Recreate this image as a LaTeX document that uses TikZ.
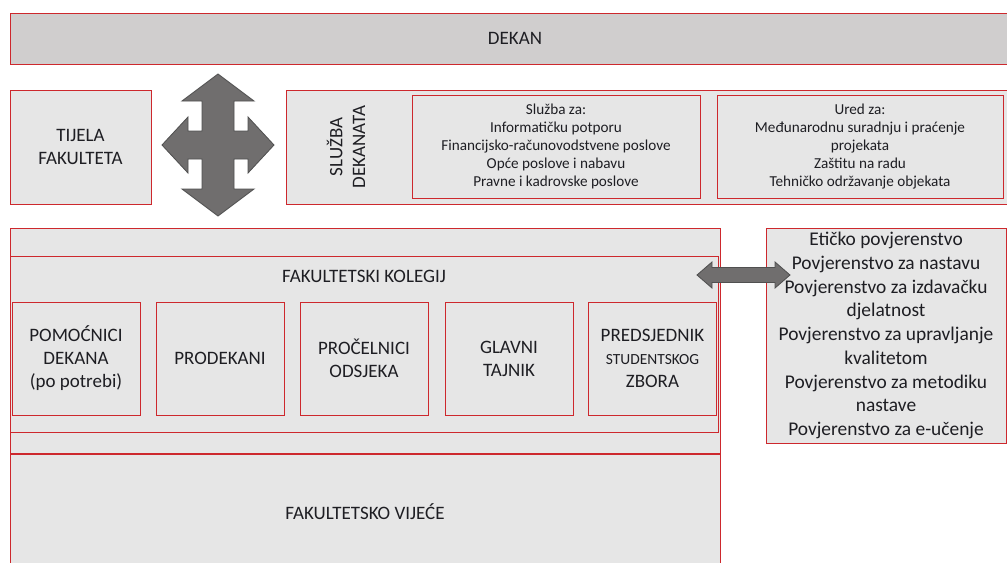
\documentclass[tikz,border=0pt]{standalone}
\usepackage{fontspec}
\setmainfont{Carlito}
\usetikzlibrary{positioning}

\definecolor{redline}{RGB}{205,40,45}
\definecolor{boxfill}{RGB}{230,230,230}
\definecolor{dekanfill}{RGB}{208,206,206}
\definecolor{arrowfill}{RGB}{112,110,110}
\definecolor{arrowline}{RGB}{80,80,80}
\definecolor{textcol}{RGB}{30,30,35}

\begin{document}
\begin{tikzpicture}[
  x=0.025cm, y=-0.025cm,
  every node/.style={align=center, text=textcol},
  % Boxes (width and height in px)
  box/.style 2 args={rectangle, draw=redline, line width=0.6pt, fill=boxfill, minimum width=#1*0.025cm, minimum height=#2*0.025cm, inner sep=0pt},
  % Text sizes
  caps/.style={font=\fontsize{13.5}{16.3}\selectfont},
  small/.style={font=\fontsize{10.8}{12.8}\selectfont},
  list/.style={font=\fontsize{13.8}{16.9}\selectfont},
  % Fat arrows
  fat/.style={fill=arrowfill, draw=arrowline, line width=0.6pt, line join=miter}
]

\clip (0,0) rectangle (1007,562);
\fill[white] (0,0) rectangle (1007,562);

% === TOP: Dekan ===
\node[box={1010}{51}, fill=dekanfill, caps] (dekan) at (515,38.5) {DEKAN};

% === ROW 2: Tijela and Sluzba dekanata ===
\node[box={141}{114}, caps] (tijela) at (80.5,147) {TIJELA\\FAKULTETA};
\node[box={734}{114}] (sluzba) at (653,147) {};
\node[caps, rotate=90] (sluzbatitle) at (346,147) {SLUŽBA\\DEKANATA};
\node[box={288}{103}, small] (sluzbaza) at (556,146.5)
  {Služba za:\\Informatičku potporu\\Financijsko-računovodstvene poslove\\Opće poslove i nabavu\\Pravne i kadrovske poslove};
\node[box={286}{103}, small] (ured) at (860,146.5)
  {Ured za:\\Međunarodnu suradnju i praćenje\\projekata\\Zaštitu na radu\\Tehničko održavanje objekata};

% Four-way arrow
\coordinate (cross) at (218,145);
\draw[fat, shift={(cross)}] (0,-71) -- (36,-44) -- (16,-44) -- (16,-14) -- (30,-14) -- (30,-28)
  -- (56,0) -- (30,28) -- (30,14) -- (16,14) -- (16,44) -- (36,44) -- (0,71) -- (-36,44)
  -- (-16,44) -- (-16,14) -- (-30,14) -- (-30,28) -- (-56,0) -- (-30,-28) -- (-30,-14)
  -- (-16,-14) -- (-16,-44) -- (-36,-44) -- cycle;

% === ROW 3: Fakultetski kolegij ===
\node[box={710}{225}] (sastav) at (365,340.5) {};
\node[box={708}{176}] (kolegij) at (364,344) {};
\node[caps] (kolegijtitle) at (364,276) {FAKULTETSKI KOLEGIJ};

\node[box={128}{113}, caps] (pomocnici) at (76,358.5) {POMOĆNICI\\DEKANA\\(po potrebi)};
\node[box={128}{113}, caps] (prodekani) at (220,358.5) {PRODEKANI};
\node[box={128}{113}, caps] (procelnici) at (364,358.5) {PROČELNICI\\ODSJEKA};
\node[box={128}{113}, caps] (tajnik) at (509,358.5) {GLAVNI\\TAJNIK};
\node[box={128}{113}, caps] (predsjednik) at (652.5,358.5)
  {PREDSJEDNIK\\{\fontsize{11}{16.3}\selectfont STUDENTSKOG}\\ZBORA};

% Povjerenstva
\node[box={240}{215}, list] (povjerenstva) at (886,335.5)
  {Etičko povjerenstvo\\Povjerenstvo za nastavu\\Povjerenstvo za izdavačku\\djelatnost\\Povjerenstvo za upravljanje\\kvalitetom\\Povjerenstvo za metodiku\\nastave\\Povjerenstvo za e-učenje};

% === BOTTOM: Fakultetsko vijece ===
\node[box={710}{116}, caps] (vijece) at (365,512) {FAKULTETSKO VIJEĆE};

% Double arrow: kolegij <-> povjerenstva
\coordinate (kolarrow) at (697,275);
\draw[fat, shift={(kolarrow)}] (0,0) -- (15,-13) -- (15,-7.5) -- (78,-7.5) -- (78,-13) -- (93,0)
  -- (78,13) -- (78,7.5) -- (15,7.5) -- (15,13) -- cycle;

\end{tikzpicture}
\end{document}
